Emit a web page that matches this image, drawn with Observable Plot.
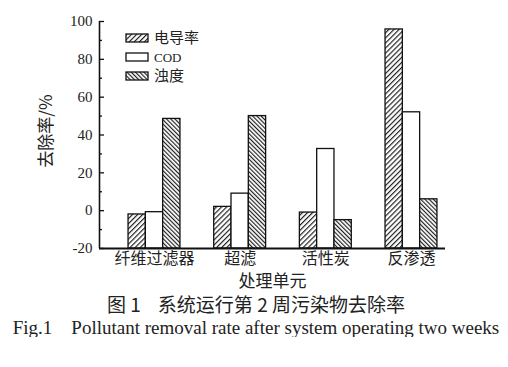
<!DOCTYPE html>
<html>
<head>
<meta charset="utf-8">
<script src="https://cdn.jsdelivr.net/npm/d3@7"></script>
<script src="https://cdn.jsdelivr.net/npm/@observablehq/plot@0.6"></script>
<style>
  body { margin: 0; background: #fff; }
  #chart { width: 508px; }
  .cap { text-align: center; color: #222; line-height: 1; white-space: pre; }
  .cap1 { font-family: "Noto Sans CJK SC", "Liberation Serif", serif; font-size: 19px; margin-top: 0px; margin-left: 4px; }
  .cap2 { font-family: "Liberation Serif", serif; font-size: 19px; margin-top: 5px; margin-left: 4px; }
  #chart svg g[aria-label="y-axis tick label"], #chart svg g[aria-label="y-axis tick label"] text {
    font-family: "Liberation Serif", "Times New Roman", serif !important;
  }
</style>
</head>
<body>
<div id="chart"></div>
<script>
const categories = ["纤维过滤器", "超滤", "活性炭", "反渗透"];
const seriesNames = ["电导率", "COD", "浊度"];
const conductivity = [-2, 2, -1, 95.8];
const cod = [-0.8, 9, 32.6, 52];
const turbidity = [48.5, 50, -5, 6];
const majorTicks = [-20, 0, 20, 40, 60, 80, 100];
const minorTicks = [-10, 10, 30, 50, 70, 90];

const seriesValues = [conductivity, cod, turbidity];
const fills = ["url(#hatchFwd)", "#fff", "url(#hatchBack)"];
const data = [];
categories.forEach((c, i) => {
  seriesValues.forEach((vals, j) => {
    data.push({cat: c, ci: i, si: j, series: seriesNames[j], value: vals[i]});
  });
});
const barW = 0.202;
const serif = '"Liberation Serif", "Times New Roman", serif';
const cjk = '"Noto Sans CJK SC", sans-serif';

const chart = Plot.plot({
  width: 508,
  height: 294,
  marginLeft: 99,
  marginRight: 63,
  marginTop: 21,
  marginBottom: 46,
  style: {fontFamily: serif, fontSize: "14px", color: "#222", background: "#fff"},
  x: {type: "linear", domain: [-0.642, 3.397]},
  y: {domain: [-20, 100]},
  marks: [
    Plot.rectY(data, {
      x1: d => d.ci + (d.si - 1.5) * barW,
      x2: d => d.ci + (d.si - 0.5) * barW,
      y1: -20,
      y2: "value",
      fill: d => fills[d.si],
      stroke: "#111",
      strokeWidth: 1.3
    }),
    Plot.axisY({ticks: majorTicks, tickSize: -5, tickPadding: 12, tickFormat: d => String(d), fontSize: 15, fontFamily: serif, stroke: "#111", strokeWidth: 1.3, label: null}),
    Plot.axisY({ticks: minorTicks, tickSize: -3, tickFormat: () => "", stroke: "#111", strokeWidth: 1.3, label: null}),
    Plot.axisX({ticks: [0, 1, 2, 3], tickSize: 0, tickPadding: 4, tickFormat: d => categories[d], fontSize: 16, fontFamily: cjk, label: null}),
    Plot.ruleX([-0.642], {y1: -20, y2: 100, stroke: "#111", strokeWidth: 1.6}),
    Plot.ruleY([-20], {stroke: "#111", strokeWidth: 2}),
    Plot.text(["处理单元"], {frameAnchor: "bottom", lineAnchor: "middle", dy: 33, fontSize: 17, fontFamily: cjk, fill: "#222"}),
    Plot.text(["去除率/%"], {frameAnchor: "left", textAnchor: "middle", dx: -53, dy: -4, rotate: -90, fontSize: 17, fontFamily: cjk, fill: "#222"})
  ]
});

const svg = d3.select(chart);
const defs = svg.insert("defs", ":first-child");
defs.append("pattern").attr("id", "hatchFwd").attr("patternUnits", "userSpaceOnUse")
  .attr("width", 3.6).attr("height", 3.6).attr("patternTransform", "rotate(45)")
  .call(p => { p.append("rect").attr("width", 3.6).attr("height", 3.6).attr("fill", "#fff");
               p.append("line").attr("x1", 0.6).attr("y1", 0).attr("x2", 0.6).attr("y2", 3.6).attr("stroke", "#111").attr("stroke-width", 1.1); });
defs.append("pattern").attr("id", "hatchBack").attr("patternUnits", "userSpaceOnUse")
  .attr("width", 3).attr("height", 3).attr("patternTransform", "rotate(-45)")
  .call(p => { p.append("rect").attr("width", 3).attr("height", 3).attr("fill", "#fff");
               p.append("line").attr("x1", 0.6).attr("y1", 0).attr("x2", 0.6).attr("y2", 3).attr("stroke", "#111").attr("stroke-width", 1.1); });

const legend = svg.append("g").attr("transform", "translate(126,34)");
seriesNames.forEach((name, j) => {
  const g = legend.append("g").attr("transform", `translate(0,${j * 19})`);
  g.append("rect").attr("width", 22).attr("height", 8).attr("fill", fills[j]).attr("stroke", "#111").attr("stroke-width", 1.3);
  g.append("text").attr("x", 28).attr("y", 4).attr("dy", "0.36em")
    .attr("text-anchor", "start")
    .attr("font-size", j === 1 ? 13 : 15)
    .attr("font-family", j === 1 ? serif : cjk)
    .attr("fill", "#222").text(name);
});

const container = document.getElementById("chart");
container.appendChild(chart);
const c1 = document.createElement("div");
c1.className = "cap cap1";
c1.textContent = "图 1    系统运行第 2 周污染物去除率";
const c2 = document.createElement("div");
c2.className = "cap cap2";
c2.textContent = "Fig.1    Pollutant removal rate after system operating two weeks";
container.appendChild(c1);
container.appendChild(c2);
</script>
</body>
</html>
